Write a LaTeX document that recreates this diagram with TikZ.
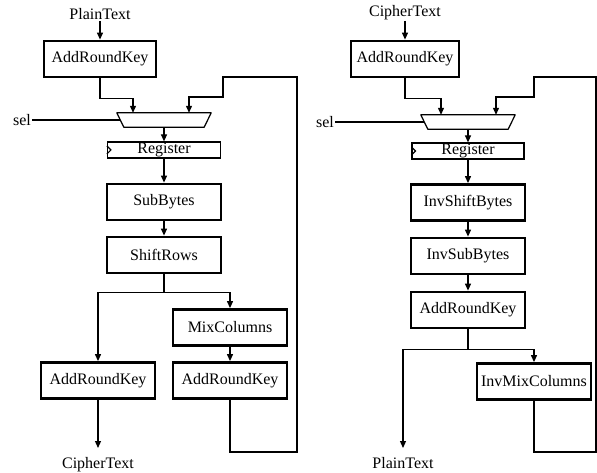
\documentclass[tikz,border=0pt]{standalone}
\usepackage{fontspec}
\setmainfont{Liberation Serif}
\usetikzlibrary{arrows.meta}

\begin{document}
\begin{tikzpicture}[x=1pt, y=-1pt,
  font=\fontsize{16}{18}\selectfont,
  block/.style={draw, line width=2.8pt, minimum width=114pt, minimum height=36pt, inner sep=1pt},
  regbox/.style={draw, line width=1.2pt, minimum width=113pt, minimum height=16pt, inner sep=0pt},
  mux/.style={minimum width=94pt, minimum height=14pt, inner sep=0pt},
  io/.style={inner sep=1pt},
  wire/.style={line width=1.2pt},
  arrow/.style={wire, -{Triangle[length=7pt,width=6pt]}},
]
\useasboundingbox (0,0) rectangle (597,473);
% --- encryption (left) ---
\node[io, anchor=south] (pin) at (100,21) {PlainText};
\node[block, minimum width=112pt] (ark1) at (100,59) {AddRoundKey};
\node[mux] (mux1) at (164,120) {};
\node[io] (sel1) at (22,120) {sel};
\node[regbox] (reg1) at (164,150) {Register};
\node[block] (sub) at (164,202) {SubBytes};
\node[block] (shr) at (164,255) {ShiftRows};
\node[block] (mix) at (230,327.5) {MixColumns};
\node[block] (ark2) at (98,380.5) {AddRoundKey};
\node[block] (ark3) at (230,380.5) {AddRoundKey};
\node[io, anchor=north] (cout) at (98,456) {CipherText};
\coordinate (in1) at ([xshift=-31pt]mux1.north);
\coordinate (in2) at ([xshift=25pt]mux1.north);
\coordinate (fbL1) at (297,452);
\coordinate (fbL2) at (297,77);
% --- decryption (right) ---
\node[io, anchor=south] (cin) at (405,21) {CipherText};
\node[block, minimum width=108pt] (ark4) at (405,59) {AddRoundKey};
\node[mux] (mux2) at (468,122) {};
\node[io] (sel2) at (325,122) {sel};
\node[regbox, minimum width=112pt] (reg2) at (468,151) {Register};
\node[block] (isb) at (468,202.5) {InvShiftBytes};
\node[block] (isub) at (468,256) {InvSubBytes};
\node[block] (ark5) at (468,310) {AddRoundKey};
\node[block] (imc) at (534,381.5) {InvMixColumns};
\node[io, anchor=north] (pout) at (403,456) {PlainText};
\coordinate (in3) at ([xshift=-27pt]mux2.north);
\coordinate (in4) at ([xshift=28pt]mux2.north);
\coordinate (fbR1) at (596,452);
\coordinate (fbR2) at (596,77);
% --- mux outlines and register clock marks ---
\foreach \m in {mux1,mux2}
  \draw[wire, line join=round] (\m.north west) -- (\m.north east)
    -- ([xshift=-7pt]\m.south east) -- ([xshift=7pt]\m.south west) -- cycle;
\foreach \r in {reg1,reg2}
  \draw[wire] ([yshift=4pt]\r.west) -- ++(4pt,-4pt) -- ++(-4pt,-4pt);
% --- left wires ---
\draw[arrow] (pin) -- (ark1);
\draw[arrow] (ark1.south) -- ++(0,20) -| (in1);
\draw[wire] (sel1) -- ([xshift=3.5pt]mux1.west);
\draw[arrow] (mux1) -- (reg1);
\draw[arrow] (reg1) -- (sub);
\draw[arrow] (sub) -- (shr);
\draw[wire] (shr.south) -- ++(0,18) coordinate (splitL);
\draw[arrow] (splitL) -| (ark2);
\draw[arrow] (splitL) -| (mix);
\draw[arrow] (mix) -- (ark3);
\draw[arrow, shorten >=8pt] (ark2) -- (cout);
\draw[arrow] (ark3.south) |- (fbL1) -- (fbL2) -| ++(-74,20) -| (in2);
% --- right wires ---
\draw[arrow] (cin) -- (ark4);
\draw[arrow] (ark4.south) -- ++(0,20) -| (in3);
\draw[wire] (sel2) -- ([xshift=3.5pt]mux2.west);
\draw[arrow] (mux2) -- (reg2);
\draw[arrow] (reg2) -- (isb);
\draw[arrow] (isb) -- (isub);
\draw[arrow] (isub) -- (ark5);
\draw[wire] (ark5.south) -- ++(0,20) coordinate (splitR);
\draw[arrow, shorten >=8pt] (splitR) -| (pout);
\draw[arrow] (splitR) -| (imc);
\draw[arrow] (imc.south) |- (fbR1) -- (fbR2) -| ++(-62,20) -| (in4);
\end{tikzpicture}
\end{document}
